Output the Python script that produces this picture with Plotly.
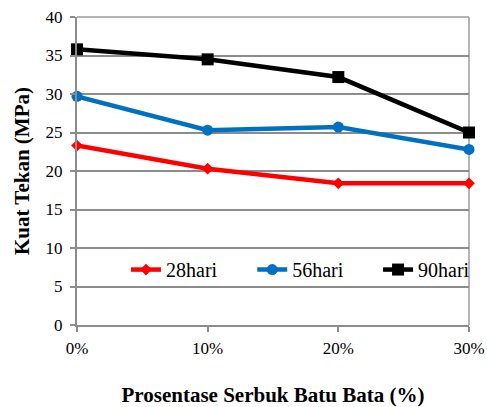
import plotly.graph_objects as go

# Percentage of brick powder replacement
persen = [0, 10, 20, 30]
label_persen = ["0%", "10%", "20%", "30%"]

# Compressive strength (MPa) by curing age
kuat_28 = [23.3, 20.3, 18.4, 18.4]
kuat_56 = [29.7, 25.3, 25.7, 22.8]
kuat_90 = [35.8, 34.5, 32.2, 25.0]

seri = [
    ("28hari", kuat_28, "#ff0000", "diamond", 9, "legend", 0.125),
    ("56hari", kuat_56, "#0070c0", "circle", 11, "legend2", 0.447),
    ("90hari", kuat_90, "#000000", "square", 12, "legend3", 0.768),
]

font_serif = "Liberation Serif, Times New Roman, serif"

fig = go.Figure()
legend_cfg = {}
for nama, nilai, warna, simbol, ukuran, leg, leg_x in seri:
    fig.add_trace(go.Scatter(
        x=persen, y=nilai, name=nama, mode="lines+markers",
        line=dict(color=warna, width=4.5),
        marker=dict(symbol=simbol, size=ukuran, color=warna),
        cliponaxis=False, legend=leg, showlegend=True,
    ))
    # one single-entry legend per series, laid out in a row
    legend_cfg[leg] = dict(
        x=leg_x, y=0.18, xanchor="left", yanchor="middle",
        orientation="h", bgcolor="rgba(0,0,0,0)", font=dict(size=20),
    )

fig.update_layout(
    width=487, height=407,
    margin=dict(l=77, r=15, t=17, b=82),
    paper_bgcolor="white", plot_bgcolor="white",
    font=dict(family=font_serif, size=17, color="black"),
    **legend_cfg,
    xaxis=dict(
        range=[0, 30], tickmode="array", tickvals=persen, ticktext=label_persen,
        showgrid=False, zeroline=False, automargin=False,
        showline=True, linecolor="#8c8c8c", linewidth=2,
        ticks="outside", ticklen=5, tickcolor="#8c8c8c", tickwidth=2,
        ticklabelstandoff=2, ticklabeloverflow="allow",
        title=dict(text="<b>Prosentase Serbuk Batu Bata (%)</b>",
                   font=dict(size=21), standoff=30),
    ),
    yaxis=dict(
        range=[0, 40], dtick=5,
        showgrid=True, gridcolor="#8c8c8c", gridwidth=2,
        zeroline=False, automargin=False,
        showline=True, linecolor="#8c8c8c", linewidth=2,
        ticks="outside", ticklen=5, tickcolor="#8c8c8c", tickwidth=2,
        ticklabelstandoff=4,
        title=dict(text="<b>Kuat Tekan (MPa)</b>", font=dict(size=21), standoff=10),
    ),
    shapes=[
        dict(type="line", xref="paper", yref="paper", x0=0, x1=1, y0=1, y1=1,
             line=dict(color="#b4b4b4", width=2), layer="below"),
        dict(type="line", xref="paper", yref="paper", x0=1, x1=1, y0=0, y1=1,
             line=dict(color="#b4b4b4", width=2), layer="below"),
    ],
)

fig.write_html("out.html")
